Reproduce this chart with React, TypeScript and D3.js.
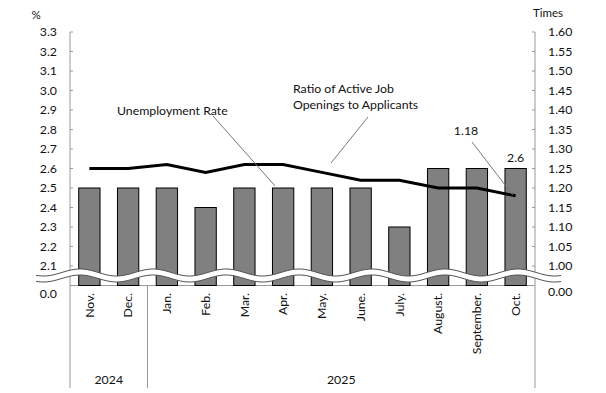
import React from "react"
import * as d3 from "d3"

const months = ["Nov.", "Dec.", "Jan.", "Feb.", "Mar.", "Apr.", "May.", "June.", "July.", "August.", "September.", "Oct."]
const years = [
  { label: "2024", from: 0, to: 2 },
  { label: "2025", from: 2, to: 12 },
]
const unemployment = [2.5, 2.5, 2.5, 2.4, 2.5, 2.5, 2.5, 2.5, 2.3, 2.6, 2.6, 2.6]
const ratio = [1.25, 1.25, 1.26, 1.24, 1.26, 1.26, 1.24, 1.22, 1.22, 1.2, 1.2, 1.18]
const leftTicks = [2.1, 2.2, 2.3, 2.4, 2.5, 2.6, 2.7, 2.8, 2.9, 3.0, 3.1, 3.2, 3.3]
const rightTicks = [1.0, 1.05, 1.1, 1.15, 1.2, 1.25, 1.3, 1.35, 1.4, 1.45, 1.5, 1.55, 1.6]

const FONT = "Lato, 'Noto Sans', sans-serif"
const L = 70, R = 535, TOP = 32, BOT = 285.5

export default function App() {
  const x = d3.scaleBand<string>().domain(months).range([L, R]).paddingInner(0.45).paddingOuter(0.225)
  const yL = d3.scaleLinear().domain([2.0, 3.3]).range([BOT, TOP])
  const yR = d3.scaleLinear().domain([0.95, 1.6]).range([BOT, TOP])
  const cx = (m: string) => (x(m) as number) + x.bandwidth() / 2
  const step = x.step()

  const line = d3.line<number>()
    .x((d, i) => cx(months[i]))
    .y(d => yR(d))

  // break symbol (wavy band)
  const waveY = 275.5, amp = 3.5, period = 73, gap = 3
  const xs = d3.range(36, 562, 1)
  const wy = (d: number) => waveY - amp * Math.cos(2 * Math.PI * (d - 80) / period)
  const wave = (off: number) => d3.line<number>()
    .x(d => d)
    .y(d => wy(d) + off)(xs) as string
  const top = xs.map(d => [d, wy(d) - gap])
  const bot = xs.map(d => [d, wy(d) + gap]).reverse()
  const band = "M" + top.concat(bot).map(p => p.join(",")).join("L") + "Z"

  const last = months.length - 1

  return (
    <svg width={606} height={393} style={{ position: "absolute", left: 0, top: 0, background: "#fff" }}
      fontFamily={FONT} fontSize={12.3} fill="#111">
      {/* axes */}
      <line x1={L} x2={L} y1={TOP} y2={388} stroke="#999" />
      <line x1={R} x2={R} y1={TOP} y2={388} stroke="#999" />
      <line x1={L} x2={R} y1={BOT} y2={BOT} stroke="#999" />
      {years.slice(1).map(y => (
        <line key={y.label} x1={L + step * y.from} x2={L + step * y.from} y1={BOT} y2={388} stroke="#999" />
      ))}
      {leftTicks.map(t => (
        <g key={"l" + t}>
          <line x1={L} x2={L + 3} y1={yL(t)} y2={yL(t)} stroke="#999" />
          <text x={57} y={yL(t)} dy="0.35em" textAnchor="end">{t.toFixed(1)}</text>
        </g>
      ))}
      {rightTicks.map(t => (
        <g key={"r" + t}>
          <line x1={R - 3} x2={R} y1={yR(t)} y2={yR(t)} stroke="#999" />
          <text x={548} y={yR(t)} dy="0.35em">{t.toFixed(2)}</text>
        </g>
      ))}
      <text x={57} y={294} dy="0.35em" textAnchor="end">0.0</text>
      <text x={548} y={292} dy="0.35em">0.00</text>
      <text x={36} y={15} dy="0.35em" textAnchor="middle" fontSize={11.5}>%</text>
      <text x={548} y={13} dy="0.35em" textAnchor="middle" fontSize={11.5}>Times</text>

      {/* bars */}
      {unemployment.map((v, i) => (
        <rect key={months[i]} x={x(months[i])} y={yL(v)} width={x.bandwidth()} height={BOT - yL(v)}
          fill="#808080" stroke="#000" strokeWidth={1} />
      ))}

      {/* break */}
      <path d={band} fill="#fff" stroke="none" />
      <path d={wave(-gap)} fill="none" stroke="#555" strokeWidth={1} />
      <path d={wave(gap)} fill="none" stroke="#555" strokeWidth={1} />

      {/* ratio line */}
      <path d={line(ratio) as string} fill="none" stroke="#000" strokeWidth={3} />

      {/* month and year labels */}
      {months.map(m => (
        <text key={m} transform={`translate(${cx(m)},293) rotate(-90)`} textAnchor="end" dy="0.35em">{m}</text>
      ))}
      {years.map(y => (
        <text key={y.label} x={L + step * (y.from + y.to) / 2} y={380} dy="0.35em" textAnchor="middle">{y.label}</text>
      ))}

      {/* annotations */}
      <text x={117} y={111} dy="0.35em">Unemployment Rate</text>
      <line x1={213} y1={116} x2={cx(months[5]) - 8} y2={yL(unemployment[5]) - 2} stroke="#777" />
      <text x={293} y={89} dy="0.35em">Ratio of Active Job</text>
      <text x={293} y={105} dy="0.35em">Openings to Applicants</text>
      <line x1={368} y1={117} x2={331} y2={163} stroke="#777" />
      <text x={466} y={131} dy="0.35em" textAnchor="middle">{ratio[last].toFixed(2)}</text>
      <line x1={472} y1={142} x2={cx(months[last]) - 3} y2={yR(ratio[last]) - 1} stroke="#777" />
      <text x={cx(months[last])} y={158} dy="0.35em" textAnchor="middle">{unemployment[last].toFixed(1)}</text>
    </svg>
  )
}
